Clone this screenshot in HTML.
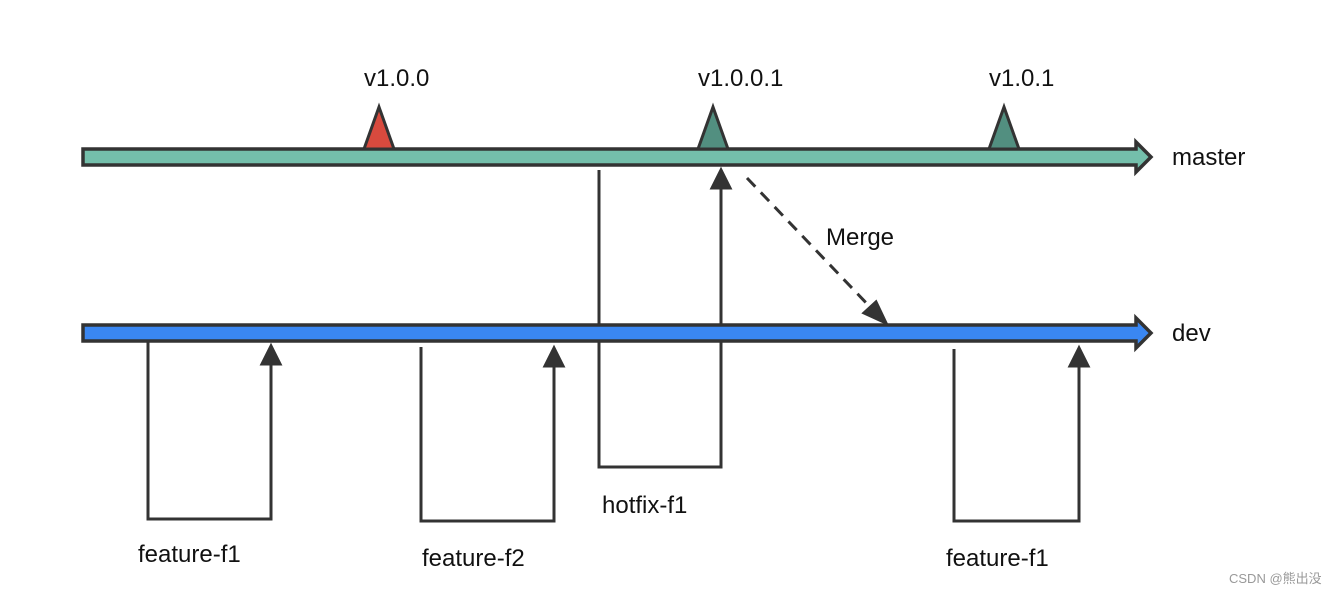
<!DOCTYPE html>
<html><head><meta charset="utf-8"><style>
html,body{margin:0;padding:0;background:#fff;}
svg{display:block;}
text{font-family:"Liberation Sans",Arial,sans-serif;font-size:24px;fill:#111;}
</style></head><body>
<svg width="1342" height="594" viewBox="0 0 1342 594" xmlns="http://www.w3.org/2000/svg">
<defs>
<marker id="ah" viewBox="0 0 10 10" refX="9" refY="5" markerWidth="5" markerHeight="5" orient="auto-start-reverse" markerUnits="strokeWidth">
<path d="M0,0 L10,5 L0,10 Z" fill="#333"/>
</marker>
</defs>
<g stroke="#333" stroke-width="3" fill="none" stroke-linejoin="miter">
<!-- hotfix -->
<polyline points="599,170 599,467 721,467 721,186"/>
<polygon points="721,170 712,188 730,188" fill="#333"/>
<!-- feature-f1 left -->
<polyline points="148,341 148,519 271,519 271,362"/>
<polygon points="271,346 262,364 280,364" fill="#333"/>
<!-- feature-f2 -->
<polyline points="421,347 421,521 554,521 554,364"/>
<polygon points="554,348 545,366 563,366" fill="#333"/>
<!-- feature-f1 right -->
<polyline points="954,349 954,521 1079,521 1079,364"/>
<polygon points="1079,348 1070,366 1088,366" fill="#333"/>
<!-- merge dashed -->
<line x1="747" y1="178" x2="872" y2="309" stroke-dasharray="12,8"/>
<polygon points="886,323 864,313 876,302" fill="#333"/>
<!-- master bar -->
<path d="M83,149 H1136 V142 L1151,157 L1136,172 V165 H83 Z" fill="#74bfab" stroke-width="3.5"/>
<!-- dev bar -->
<path d="M83,325 H1136 V318 L1151,333 L1136,348 V341 H83 Z" fill="#3a87f2" stroke-width="3.5"/>
<line x1="721" y1="341" x2="721" y2="350"/>
<!-- tags -->
<polygon points="379,107 364,149 394,149" fill="#d84a3e"/>
<polygon points="713,107 698,149 728,149" fill="#528f80"/>
<polygon points="1004,107 989,149 1019,149" fill="#528f80"/>
</g>
<text x="364" y="86">v1.0.0</text>
<text x="698" y="86">v1.0.0.1</text>
<text x="989" y="86">v1.0.1</text>
<text x="1172" y="165">master</text>
<text x="1172" y="341">dev</text>
<text x="826" y="245">Merge</text>
<text x="138" y="562">feature-f1</text>
<text x="422" y="566">feature-f2</text>
<text x="602" y="513">hotfix-f1</text>
<text x="946" y="566">feature-f1</text>
<text x="1229" y="583" style="font-family:'Liberation Sans','Noto Sans CJK SC',sans-serif;font-size:13px;fill:#999">CSDN @熊出没</text>
</svg>
</body></html>
